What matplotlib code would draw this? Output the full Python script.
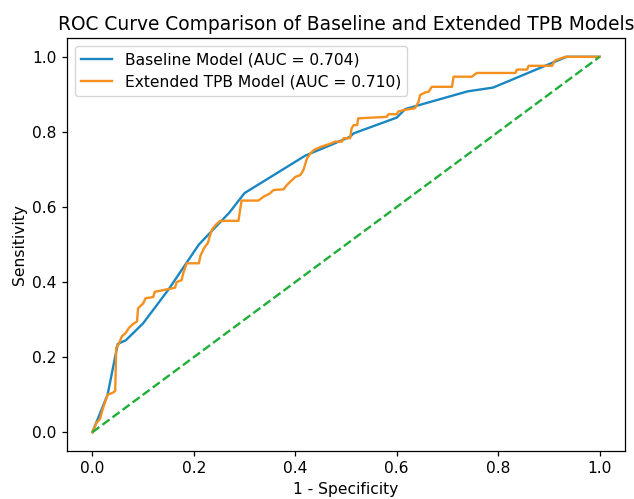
import matplotlib
matplotlib.use('Agg')
import matplotlib.pyplot as plt

# ROC points (1 - specificity, sensitivity)
baseline_fpr = [0.0, 0.03, 0.05, 0.066, 0.10, 0.15, 0.21, 0.27, 0.30, 0.42, 0.47,
                0.508, 0.515, 0.60, 0.617, 0.74, 0.79, 0.935, 1.0]
baseline_tpr = [0.0, 0.10, 0.235, 0.245, 0.29, 0.38, 0.50, 0.585, 0.637, 0.737, 0.765,
                0.787, 0.796, 0.838, 0.861, 0.908, 0.918, 1.0, 1.0]

extended_fpr = [0.0, 0.008, 0.015, 0.02, 0.03, 0.04, 0.045, 0.047, 0.052, 0.058, 0.066,
                0.072, 0.08, 0.088, 0.09, 0.10, 0.105, 0.12, 0.123, 0.145, 0.163,
                0.166, 0.176, 0.179, 0.186, 0.21, 0.213, 0.22, 0.228, 0.232, 0.236,
                0.243, 0.252, 0.288, 0.291, 0.294, 0.327, 0.337, 0.35, 0.357, 0.377,
                0.383, 0.40, 0.41, 0.416, 0.423, 0.43, 0.437, 0.45, 0.47, 0.478,
                0.492, 0.495, 0.508, 0.511, 0.515, 0.522, 0.524, 0.58, 0.584, 0.60,
                0.603, 0.613, 0.636, 0.643, 0.646, 0.656, 0.663, 0.669, 0.709, 0.712,
                0.748, 0.758, 0.834, 0.837, 0.857, 0.86, 0.906, 0.912, 0.932, 1.0]
extended_tpr = [0.0, 0.025, 0.035, 0.06, 0.10, 0.105, 0.11, 0.225, 0.235, 0.255, 0.265,
                0.278, 0.288, 0.295, 0.33, 0.343, 0.357, 0.36, 0.374, 0.38, 0.385,
                0.40, 0.405, 0.423, 0.45, 0.45, 0.47, 0.49, 0.505, 0.525, 0.54,
                0.552, 0.563, 0.563, 0.59, 0.617, 0.617, 0.627, 0.636, 0.645, 0.647,
                0.658, 0.68, 0.685, 0.698, 0.729, 0.743, 0.752, 0.76, 0.769, 0.774,
                0.774, 0.783, 0.783, 0.809, 0.818, 0.818, 0.836, 0.84, 0.847, 0.847,
                0.854, 0.858, 0.863, 0.88, 0.898, 0.905, 0.907, 0.92, 0.92, 0.947,
                0.947, 0.957, 0.957, 0.966, 0.966, 0.976, 0.976, 0.99, 1.0, 1.0]

baseline_auc = 0.704
extended_auc = 0.710

# reference looks like a default plot rendered ~12% larger
plt.rcParams.update({
    'font.size': 11.2,
    'axes.titlesize': 13.4,
    'lines.linewidth': 1.7,
    'axes.linewidth': 0.9,
    'xtick.major.size': 3.9,
    'ytick.major.size': 3.9,
    'xtick.major.width': 0.9,
    'ytick.major.width': 0.9,
})

fig = plt.figure(figsize=(6.34, 4.99), dpi=100)
ax = fig.add_axes([0.1057, 0.0962, 0.8801, 0.8276])

ax.plot(baseline_fpr, baseline_tpr, color='#1a87c2',
        label=f'Baseline Model (AUC = {baseline_auc:.3f})')
ax.plot(extended_fpr, extended_tpr, color='#f5901e',
        label=f'Extended TPB Model (AUC = {extended_auc:.3f})')
ax.plot([0, 1], [0, 1], color='#1fae38', linestyle='--')

ax.set_xlabel('1 - Specificity')
ax.set_ylabel('Sensitivity')
ax.set_title('ROC Curve Comparison of Baseline and Extended TPB Models')
ax.legend(loc='upper left')

fig.savefig('out.png', dpi=100)
